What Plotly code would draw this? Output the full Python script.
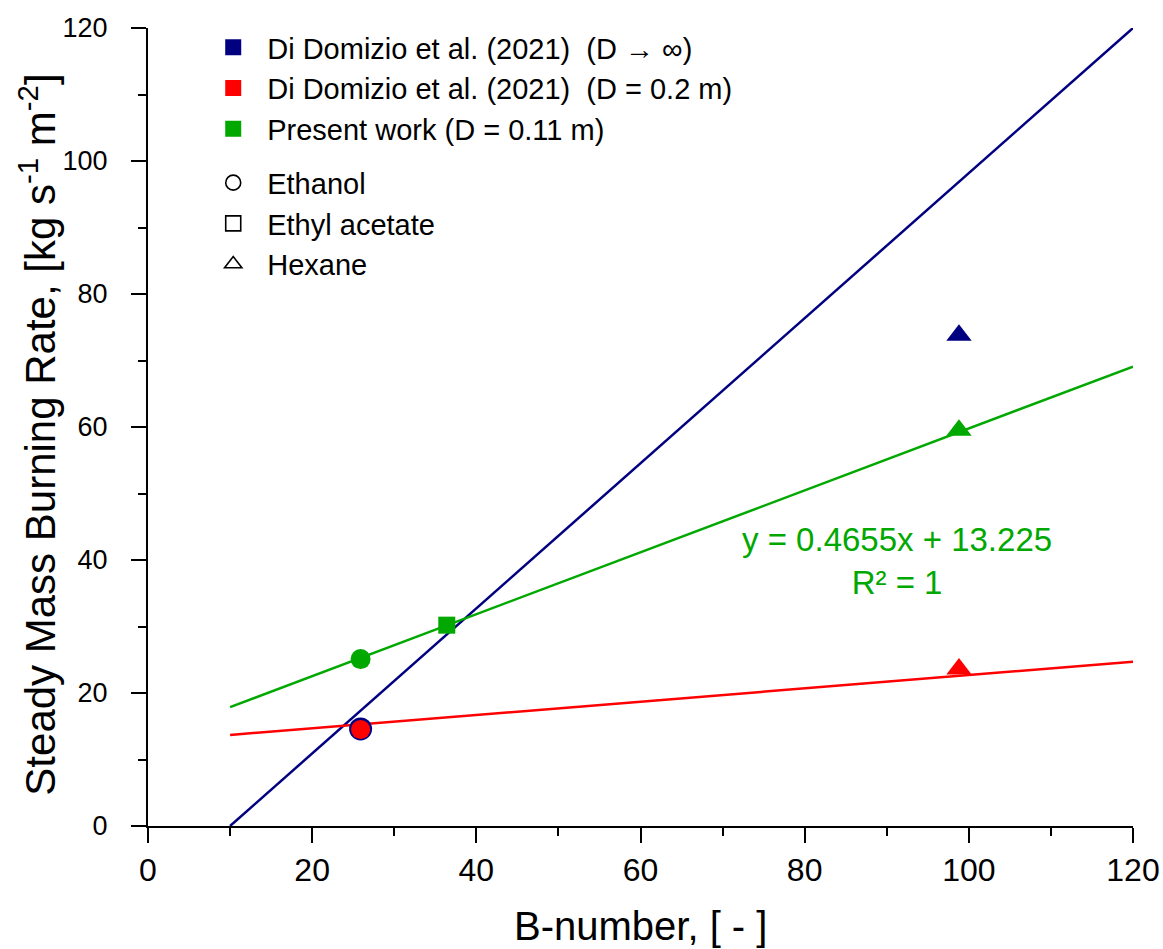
import plotly.graph_objects as go

# ---- data ----
fuels = ["Ethanol", "Ethyl acetate", "Hexane"]
b_number = [25.9, 36.4, 98.8]

blue_fuels = ["Ethanol", "Hexane"]
blue_b = [25.9, 98.8]
blue_mbr = [14.6, 73.8]

red_fuels = ["Ethanol", "Hexane"]
red_b = [25.9, 98.8]
red_mbr = [14.5, 23.6]

green_b = [25.9, 36.4, 98.8]
green_mbr = [25.1, 30.2, 59.5]

fit_x = [10, 120]
fit_slopes = {"blue": 1.0909, "red": 0.1, "green": 0.4655}
fit_intercepts = {"blue": -10.909, "red": 12.7, "green": 13.225}

series_names = ["Di Domizio et al. (2021)  (D → ∞)",
                "Di Domizio et al. (2021)  (D = 0.2 m)",
                "Present work (D = 0.11 m)"]

NAVY = "#000080"
RED = "#FF0000"
GREEN = "#00A800"
symbol_of = {"Ethanol": "circle", "Ethyl acetate": "square", "Hexane": "triangle-up"}
size_of = {"Ethanol": 20, "Ethyl acetate": 17, "Hexane": 22}
FONT = "Liberation Sans, Arial, sans-serif"

fig = go.Figure()

def fit_line(key):
    return [fit_slopes[key] * x + fit_intercepts[key] for x in fit_x]

for key, col in [("blue", NAVY), ("red", RED), ("green", GREEN)]:
    fig.add_trace(go.Scatter(x=fit_x, y=fit_line(key), mode="lines",
                             line=dict(color=col, width=2.5), showlegend=False,
                             hoverinfo="skip"))

# blue points
fig.add_trace(go.Scatter(x=blue_b, y=blue_mbr, mode="markers", showlegend=False,
                         marker=dict(color=NAVY, opacity=1,
                                     symbol=[symbol_of[f] for f in blue_fuels],
                                     size=[23 if f == "Ethanol" else size_of[f] for f in blue_fuels],
                                     line=dict(width=0))))
# red points
fig.add_trace(go.Scatter(x=red_b, y=red_mbr, mode="markers", showlegend=False,
                         marker=dict(color=RED, opacity=1,
                                     symbol=[symbol_of[f] for f in red_fuels],
                                     size=[19 if f == "Ethanol" else size_of[f] for f in red_fuels],
                                     line=dict(width=0))))
# green points
fig.add_trace(go.Scatter(x=green_b, y=green_mbr, mode="markers", showlegend=False,
                         marker=dict(color=GREEN, opacity=1,
                                     symbol=[symbol_of[f] for f in fuels],
                                     size=[size_of[f] for f in fuels],
                                     line=dict(width=0))))

# legend entries: series colours
for name, col in zip(series_names, [NAVY, RED, GREEN]):
    fig.add_trace(go.Scatter(x=[None], y=[None], mode="markers", name=name,
                             legend="legend",
                             marker=dict(color=col, symbol="square", size=16, opacity=1)))
# legend entries: fuels
for f in fuels:
    fig.add_trace(go.Scatter(x=[None], y=[None], mode="markers", name=f,
                             legend="legend2",
                             marker=dict(color="black", symbol=symbol_of[f] + "-open",
                                         size=15, opacity=1, line=dict(color="black", width=1.6))))

axis_common = dict(showline=True, linecolor="black", linewidth=2, mirror=False,
                   showgrid=False, zeroline=False, ticks="outside", tickcolor="black",
                   tickwidth=2, ticklen=15, automargin=False,
                   minor=dict(ticks="outside", ticklen=8, tickwidth=2, tickcolor="black", dtick=10))

fig.update_xaxes(range=[0, 120], dtick=20, tick0=0,
                 tickfont=dict(family=FONT, size=32, color="black"),
                 **axis_common)
fig.update_yaxes(range=[0, 120], dtick=20, tick0=0, ticklabelstandoff=18,
                 tickfont=dict(family=FONT, size=27, color="black"),
                 **axis_common)

fig.add_annotation(x=0.5, y=-0.125, xref="paper", yref="paper", showarrow=False,
                   text="B-number, [ - ]", xanchor="center", yanchor="middle",
                   font=dict(family=FONT, size=40, color="black"))
fig.add_annotation(x=-0.112, y=0.49, xref="paper", yref="paper", showarrow=False, textangle=-90,
                   text="Steady Mass Burning Rate, [kg s<sup>-1</sup> m<sup>-2</sup>]",
                   xanchor="center", yanchor="middle",
                   font=dict(family=FONT, size=42, color="black"))
fig.add_annotation(x=91.2, y=39.8, xref="x", yref="y", showarrow=False,
                   text="y = 0.4655x + 13.225<br>R² = 1", align="center",
                   font=dict(family=FONT, size=33, color=GREEN))

fig.update_layout(
    width=1163, height=949,
    paper_bgcolor="white", plot_bgcolor="white",
    margin=dict(l=148, r=30, t=28, b=123, autoexpand=False),
    legend=dict(x=0.052, y=1.0075, xanchor="left", yanchor="top", bgcolor="rgba(0,0,0,0)",
                font=dict(family=FONT, size=29, color="black"),
                itemwidth=58),
    legend2=dict(x=0.052, y=0.838, xanchor="left", yanchor="top", bgcolor="rgba(0,0,0,0)",
                 font=dict(family=FONT, size=29, color="black"),
                 itemwidth=58),
)

fig.write_html("out.html", config={"displayModeBar": False},
               post_script="document.body.style.margin='0px';document.body.style.overflow='hidden';")
